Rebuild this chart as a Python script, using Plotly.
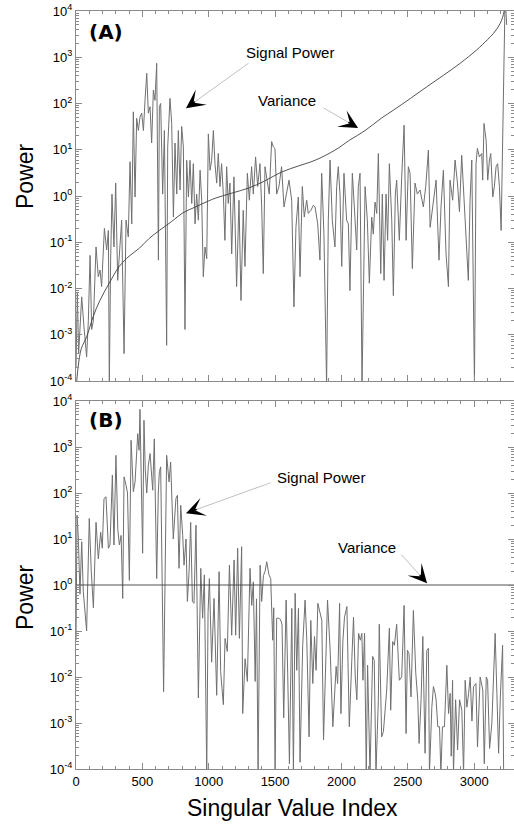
import plotly.graph_objects as go

# ---------------- data ----------------
sigA_idx = [
    0, 10, 20, 30, 43, 60, 80, 93, 106, 118,
    131, 151, 168, 181, 193, 214, 231, 244, 251, 261,
    271, 286, 299, 314, 327, 344, 362, 377, 394, 407,
    420, 432, 445, 457, 470, 482, 495, 508, 520, 533,
    545, 558, 570, 583, 595, 608, 621, 628, 638, 653,
    666, 683, 691, 708, 721, 734, 746, 759, 771, 784,
    796, 809, 821, 834, 847, 859, 872, 884, 897, 909,
    922, 935, 947, 959, 972, 985, 997, 1010, 1022, 1035,
    1047, 1060, 1072, 1085, 1097, 1110, 1122, 1135, 1147, 1160,
    1173, 1190, 1210, 1228, 1243, 1260, 1273, 1291, 1306, 1323,
    1336, 1353, 1369, 1386, 1399, 1411, 1424, 1441, 1456, 1474,
    1487, 1499, 1512, 1529, 1549, 1567, 1587, 1605, 1625, 1642,
    1657, 1675, 1688, 1705, 1720, 1738, 1750, 1770, 1788, 1801,
    1821, 1838, 1851, 1868, 1888, 1901, 1914, 1931, 1951, 1964,
    1976, 1989, 2002, 2019, 2039, 2052, 2064, 2082, 2097, 2115,
    2127, 2140, 2155, 2178, 2195, 2210, 2228, 2240, 2253, 2266,
    2278, 2296, 2308, 2321, 2336, 2348, 2361, 2379, 2391, 2406,
    2416, 2436, 2454, 2472, 2487, 2504, 2517, 2534, 2554, 2572,
    2592, 2617, 2635, 2655, 2668, 2688, 2713, 2735, 2750, 2768,
    2788, 2806, 2818, 2838, 2856, 2874, 2889, 2906, 2924, 2939,
    2956, 2969, 2982, 3002, 3014, 3024, 3039, 3057, 3064, 3074,
    3090, 3102, 3115, 3125, 3140, 3152, 3165, 3177, 3190, 3203,
    3220, 3233, 3245,
]
sigA_pow = [
    2e-4, 8e-3, 4e-4, 2e-3, 6.6e-3, 1.5e-3, 3.3e-4, 2e-3, 0.052, 1.3e-3,
    2e-3, 0.079, 0.018, 0.025, 0.011, 0.2, 0.068, 0.18, 8e-5, 0.041,
    1.1, 0.079, 1.9, 0.015, 0.068, 0.3, 3.9e-4, 0.3, 0.13, 5.5,
    0.25, 66, 0.95, 48, 26, 51, 62, 26, 117, 450,
    62, 85, 14, 195, 117, 740, 0.041, 85, 100, 1.1,
    26, 5.9e-4, 11.5, 129, 37, 0.35, 14, 1.1, 26, 1.35,
    32, 11.5, 1.3e-3, 5.9, 0.95, 5.9, 0.69, 5, 0.25, 1.1,
    0.3, 3.6, 0.81, 0.018, 0.079, 0.044, 22, 3.6, 5.9, 26,
    5, 1.9, 8.3, 1.6, 5, 1.1, 0.11, 4.3, 0.69, 1.9,
    0.056, 2.6, 0.011, 0.81, 5.5e-3, 0.49, 0.03, 3.1, 0.81, 4.3,
    1.1, 7, 1.6, 5, 0.58, 0.021, 4.3, 2.2, 1.1, 15,
    11.5, 10.7, 1.1, 1.6, 4.3, 0.58, 1.1, 2.2, 0.81, 4e-3,
    0.21, 0.95, 0.018, 1.6, 0.35, 0.81, 0.42, 0.49, 0.63, 0.58,
    0.25, 0.041, 3.1, 0.15, 8e-5, 0.3, 6, 0.3, 0.079, 1.6,
    4.3, 1.1, 0.03, 3.1, 0.3, 0.25, 9e-3, 3.1, 0.58, 0.068,
    1.6, 3.1, 8e-5, 1.6, 0.3, 0.013, 0.35, 0.15, 0.74, 0.42,
    8.3, 0.021, 1.1, 0.015, 1.1, 0.11, 5, 0.3, 7e-3, 1.1,
    2.2, 0.11, 2.6, 34, 0.11, 4.3, 3.1, 0.027, 1.9, 1.1,
    1.35, 0.58, 1.6, 9.8, 0.21, 0.58, 2.2, 0.041, 0.58, 3.6,
    0.056, 0.011, 2.2, 0.81, 6, 1.9, 0.46, 7.6, 0.81, 0.11,
    0.015, 0.81, 6, 8e-5, 5, 10.7, 7, 8.3, 2.2, 37,
    16, 2.2, 6, 8.3, 0.95, 1.6, 4.3, 5, 1.6, 0.18,
    316, 2e4, 5000,
]

varA_idx = [0, 16, 40, 80, 130, 180, 250, 326, 400, 477,
            550, 628, 720, 804, 900, 980, 1047, 1181, 1299, 1420,
            1549, 1680, 1800, 1951, 2060, 2178, 2300, 2392, 2520, 2643,
            2770, 2894, 3020, 3100, 3146, 3196, 3226, 3240]
varA_pow = [6e-5, 2e-4, 5e-4, 9e-4, 2.5e-3, 5.5e-3, 0.013, 0.03, 0.05, 0.074,
            0.12, 0.18, 0.28, 0.43, 0.58, 0.74, 0.89, 1.17, 1.48, 2.1,
            3.3, 4.5, 5.9, 9.8, 16, 26, 48, 72, 129, 230,
            410, 740, 1450, 2400, 3300, 5400, 1e4, 4e4]

sigB_idx = [
    0, 8, 18, 30, 43, 55, 80, 100, 115, 131,
    151, 168, 186, 198, 211, 226, 244, 256, 274, 286,
    301, 315, 327, 340, 352, 362, 377, 388, 402, 415,
    432, 445, 465, 475, 482, 502, 512, 522, 533, 545,
    558, 570, 578, 590, 608, 620, 628, 638, 660, 683,
    701, 713, 733, 753, 764, 776, 789, 804, 814, 829,
    839, 852, 864, 877, 889, 904, 922, 940, 954, 967,
    985, 995, 1005, 1022, 1040, 1060, 1078, 1090, 1110, 1123,
    1140, 1156, 1173, 1191, 1203, 1218, 1231, 1248, 1256, 1274,
    1291, 1311, 1324, 1336, 1350, 1360, 1372, 1387, 1399, 1412,
    1424, 1437, 1454, 1467, 1482, 1490, 1500, 1512, 1525, 1540,
    1552, 1565, 1583, 1595, 1608, 1626, 1638, 1651, 1663, 1676,
    1688, 1708, 1726, 1739, 1756, 1769, 1784, 1797, 1809, 1822,
    1840, 1852, 1865, 1880, 1895, 1915, 1935, 1960, 1971, 1986,
    1996, 2011, 2023, 2041, 2059, 2079, 2091, 2104, 2116, 2129,
    2142, 2154, 2162, 2174, 2187, 2197, 2215, 2235, 2247, 2260,
    2278, 2285, 2303, 2316, 2341, 2361, 2371, 2386, 2399, 2416,
    2436, 2454, 2472, 2487, 2497, 2509, 2524, 2542, 2560, 2575,
    2585, 2600, 2613, 2630, 2643, 2655, 2663, 2681, 2693, 2706,
    2713, 2726, 2739, 2749, 2761, 2776, 2794, 2807, 2819, 2827,
    2837, 2844, 2860, 2875, 2890, 2907, 2920, 2932, 2945, 2958,
    2970, 2983, 2995, 3013, 3025, 3045, 3065, 3076, 3091, 3101,
    3116, 3133, 3158, 3171, 3184, 3197, 3214, 3222,
]
sigB_pow = [
    0.063, 33, 10, 0.63, 8.7, 0.71, 0.1, 28, 2, 0.32,
    23, 3.7, 14, 6.3, 76, 83, 6.3, 7.4, 245, 7.4,
    660, 16, 7.4, 12, 0.51, 224, 148, 100, 1.26, 1400,
    107, 174, 1950, 850, 6600, 4.9, 3800, 316, 100, 400,
    720, 200, 115, 1500, 1.38, 100, 290, 370, 4.8e-3, 660,
    174, 470, 10, 76, 89, 2.3, 54, 12, 2.7, 10,
    0.44, 1.95, 23, 0.44, 0.4, 20, 3.5e-3, 2.3, 0.19, 1.66,
    8e-5, 0.25, 1.38, 0.021, 0.51, 4e-3, 1.95, 0.013, 2.5e-3, 0.069,
    0.036, 2.7, 0.081, 3.5, 0.081, 6.3, 0.069, 6.8, 1.6e-3, 0.025,
    8e-3, 2.3, 0.36, 1.17, 8e-3, 0.5, 8e-5, 2.7, 0.44, 1.6,
    1.95, 3.2, 1.66, 1.38, 0.063, 0.32, 8e-5, 0.19, 0.19, 0.18,
    0.14, 1.3e-3, 0.47, 0.012, 1.3e-4, 0.31, 8e-5, 0.66, 0.014, 0.31,
    1.4e-4, 0.049, 0.47, 0.063, 5e-4, 0.17, 7.2e-3, 0.076, 0.014, 0.4,
    0.22, 0.17, 4.3e-4, 0.032, 0.47, 0.038, 8.3e-4, 0.017, 7.2e-3, 0.4,
    1.6e-3, 0.063, 0.2, 0.34, 8.3e-4, 0.028, 0.2, 0.01, 3.2e-3, 0.089,
    0.063, 0.089, 8.5e-3, 0.089, 8e-5, 0.018, 8e-5, 0.028, 0.023, 8e-5,
    3.2e-3, 0.14, 5e-4, 6.5e-4, 5.2e-3, 0.115, 1.9e-3, 0.059, 0.049, 0.14,
    8.5e-3, 0.01, 0.36, 5.9e-4, 0.038, 0.032, 3.7e-3, 0.28, 0.012, 3.2e-3,
    3.6e-4, 3.2e-3, 0.076, 2.2e-4, 0.038, 0.042, 8e-5, 2.2e-3, 6.2e-3, 4.4e-3,
    3.2e-3, 8.3e-4, 8.3e-4, 8e-5, 8.3e-4, 8.3e-4, 0.018, 1.6e-3, 4.4e-3, 1.9e-4,
    8.5e-3, 8e-5, 3.2e-3, 2.6e-4, 3.2e-3, 1.9e-3, 8e-5, 8.5e-3, 2.2e-3, 4.4e-3,
    0.01, 1.1e-3, 6.2e-3, 7.2e-3, 3e-4, 0.01, 5.2e-3, 1.3e-4, 0.01, 8.5e-3,
    2.8e-4, 9.8e-4, 0.089, 4.4e-3, 2.2e-4, 3.7e-3, 0.049, 8e-5,
]

varB_idx = [0, 3300]
varB_pow = [1, 1]

x_ticks = [0, 500, 1000, 1500, 2000, 2500, 3000]
x_ticktext = ["0", "500", "1000", "1500", "2000", "2500", "3000"]
y_ticks = [1e-4, 1e-3, 1e-2, 1e-1, 1e0, 1e1, 1e2, 1e3, 1e4]
y_ticktext = ["10<sup>-4</sup>", "10<sup>-3</sup>", "10<sup>-2</sup>", "10<sup>-1</sup>",
              "10<sup>0</sup>", "10<sup>1</sup>", "10<sup>2</sup>", "10<sup>3</sup>",
              "10<sup>4</sup>"]

# ---------------- figure ----------------
W, H = 514, 827
ML, MR, MT, MB = 76, 0, 11, 58
AX_COL = "#8a8a8a"
SIG_COL = "#707070"
VAR_COL = "#404040"
FONT = "Liberation Sans, Arial, Helvetica, sans-serif"

fig = go.Figure()
fig.add_trace(go.Scatter(x=sigA_idx, y=sigA_pow, mode="lines",
                         line=dict(color=SIG_COL, width=1), xaxis="x", yaxis="y",
                         showlegend=False, hoverinfo="skip"))
fig.add_trace(go.Scatter(x=varA_idx, y=varA_pow, mode="lines", line_shape="spline",
                         line=dict(color=VAR_COL, width=0.9), xaxis="x", yaxis="y",
                         showlegend=False, hoverinfo="skip"))
fig.add_trace(go.Scatter(x=sigB_idx, y=sigB_pow, mode="lines",
                         line=dict(color=SIG_COL, width=1), xaxis="x2", yaxis="y2",
                         showlegend=False, hoverinfo="skip"))
fig.add_trace(go.Scatter(x=varB_idx, y=varB_pow, mode="lines",
                         line=dict(color=VAR_COL, width=0.9), xaxis="x2", yaxis="y2",
                         showlegend=False, hoverinfo="skip"))

minor_y = [m * 10.0 ** e for e in range(-4, 4) for m in range(2, 10)]
tickfont = dict(family=FONT, size=13, color="black")


def xaxis(anchor, show):
    return dict(domain=[0, 1], anchor=anchor, range=[0, 3300],
                tickmode="array", tickvals=x_ticks, ticktext=x_ticktext,
                showticklabels=show, tickfont=tickfont,
                ticks="inside", ticklen=6, tickwidth=1, tickcolor=AX_COL,
                minor=dict(tickmode="linear", tick0=0, dtick=100, ticks="inside",
                           ticklen=3, tickcolor=AX_COL, showgrid=False),
                showline=True, linecolor=AX_COL, linewidth=1, mirror="ticks",
                showgrid=False, zeroline=False)


def yaxis(anchor, domain):
    return dict(domain=domain, anchor=anchor, type="log", range=[-4, 4],
                tickmode="array", tickvals=y_ticks, ticktext=y_ticktext,
                tickfont=tickfont, ticks="inside", ticklen=6, tickwidth=1,
                tickcolor=AX_COL,
                minor=dict(tickmode="array", tickvals=minor_y, ticks="inside",
                           ticklen=3, tickcolor=AX_COL, showgrid=False),
                showline=True, linecolor=AX_COL, linewidth=1, mirror="ticks",
                showgrid=False, zeroline=False)


plot_h = H - MT - MB
plot_w = W - ML - MR


def py2paper(py):
    return (H - MB - py) / plot_h


def px2paper(px):
    return (px - ML) / plot_w


domA = [py2paper(381), 1.0]
domB = [0.0, py2paper(401)]

annotations = []
lab_font = dict(family=FONT, size=15, color="black")
panel_font = dict(family="DejaVu Sans, Liberation Sans, sans-serif", size=20, color="black")
big_font = dict(family=FONT, size=23, color="black")

# panel labels
annotations.append(dict(x=226, y=3.55, xref="x", yref="y", text="<b>(A)</b>",
                        showarrow=False, font=panel_font))
annotations.append(dict(x=226, y=3.58, xref="x2", yref="y2", text="<b>(B)</b>",
                        showarrow=False, font=panel_font))

# text labels
annotations.append(dict(x=1613, y=3.11, xref="x", yref="y", text="Signal Power",
                        showarrow=False, font=lab_font))
annotations.append(dict(x=1590, y=2.07, xref="x", yref="y", text="Variance",
                        showarrow=False, font=lab_font))
annotations.append(dict(x=1846, y=2.34, xref="x2", yref="y2", text="Signal Power",
                        showarrow=False, font=lab_font))
annotations.append(dict(x=2193, y=0.82, xref="x2", yref="y2", text="Variance",
                        showarrow=False, font=lab_font))


def arrow(xr, yr, x, y, ax, ay):
    # thin grey leader line
    annotations.append(dict(x=x, y=y, xref=xr, yref=yr, ax=ax, ay=ay, text="",
                            showarrow=True, arrowhead=0, arrowwidth=0.8,
                            arrowcolor="#b0b0b0"))
    # black barbed head
    L = (ax ** 2 + ay ** 2) ** 0.5
    k = 13.0 / L
    annotations.append(dict(x=x, y=y, xref=xr, yref=yr, ax=ax * k, ay=ay * k, text="",
                            showarrow=True, arrowhead=3, arrowsize=2.6, arrowwidth=1.2,
                            arrowcolor="black"))


arrow("x", "y", 829, 1.90, 64, -46)
arrow("x", "y", 2125, 1.47, -36, -21)
arrow("x2", "y2", 829, 1.56, 86, -31)
arrow("x2", "y2", 2645, 0.04, -27, -30)

# axis titles
annotations.append(dict(x=px2paper(25), y=py2paper(176), xref="paper", yref="paper",
                        xanchor="center", yanchor="middle",
                        text="Power", textangle=-90, showarrow=False, font=big_font))
annotations.append(dict(x=px2paper(25), y=py2paper(597), xref="paper", yref="paper",
                        xanchor="center", yanchor="middle",
                        text="Power", textangle=-90, showarrow=False, font=big_font))
annotations.append(dict(x=px2paper(292), y=py2paper(808), xref="paper", yref="paper",
                        xanchor="center", yanchor="middle",
                        text="Singular Value Index", showarrow=False, font=big_font))

fig.update_layout(
    width=W, height=H,
    margin=dict(l=ML, r=MR, t=MT, b=MB),
    paper_bgcolor="white", plot_bgcolor="white",
    xaxis=xaxis("y", False),
    yaxis=yaxis("x", domA),
    xaxis2=xaxis("y2", True),
    yaxis2=yaxis("x2", domB),
    annotations=annotations,
    showlegend=False,
)

fig.write_html("out.html")
